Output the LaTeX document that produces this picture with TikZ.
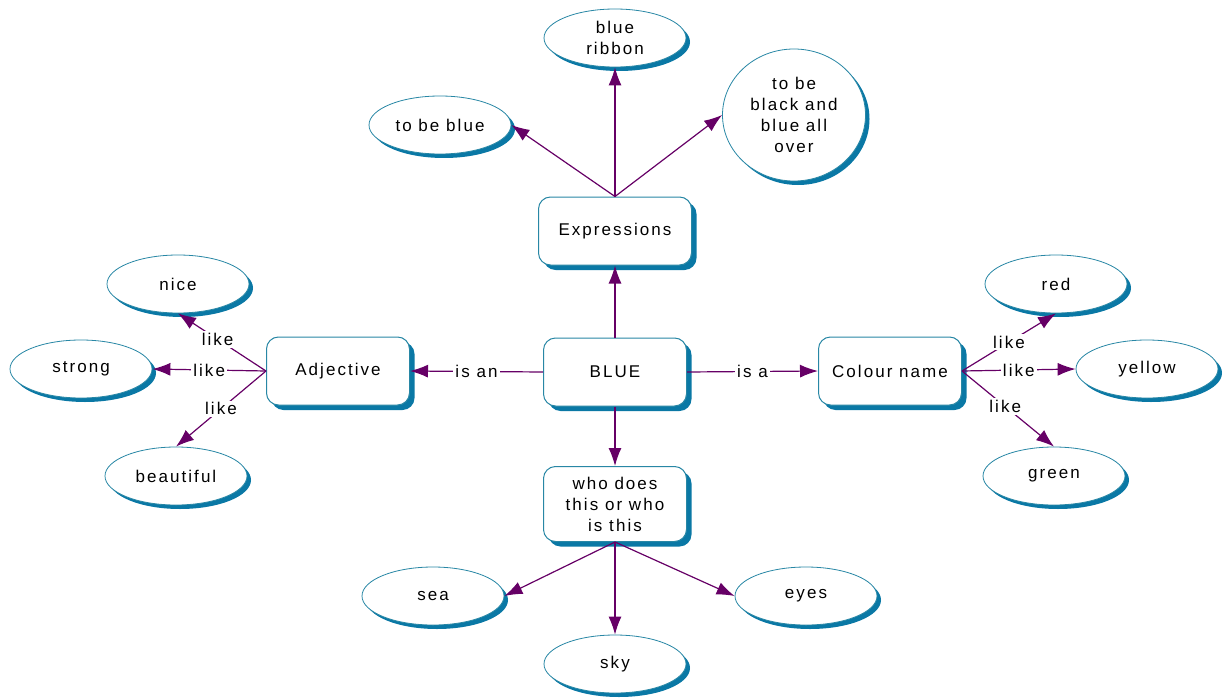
\documentclass[tikz,border=0pt]{standalone}
\usepackage{fontspec}
\setmainfont{Liberation Sans}[LetterSpace=12]
\usetikzlibrary{arrows.meta,shapes.geometric,shadows}
\definecolor{tline}{RGB}{40,135,165}
\definecolor{tshadow}{RGB}{10,120,165}
\definecolor{arrowpurple}{RGB}{102,0,102}
\begin{document}
\begin{tikzpicture}[x=1pt,y=-1pt,
  every node/.style={font=\fontsize{17}{21}\selectfont, align=center, text=black},
  mybox/.style={draw=tline, line width=1pt, fill=white, rounded corners=12pt,
    minimum width=143pt, minimum height=68pt, inner sep=0pt,
    drop shadow={shadow xshift=5pt, shadow yshift=-5pt, fill=tshadow, opacity=1}},
  myell/.style={ellipse, draw=tline, line width=0.8pt, fill=white,
    minimum width=142pt, minimum height=58pt, inner sep=0pt,
    drop shadow={shadow xshift=4pt, shadow yshift=-4pt, fill=tshadow, opacity=1}},
  conn/.style={draw=arrowpurple, line width=1.2pt, -{Latex[length=18pt,width=13pt]}},
  lbl/.style={fill=white, inner sep=2pt}
]
\useasboundingbox (0,0) rectangle (1226,698);

% boxes
\node[mybox] (blue) at (615,372) {BLUE};
\node[mybox, minimum width=153pt] (expr) at (615,231) {Expressions};
\node[mybox] (adj) at (338,371) {Adjective};
\node[mybox] (col) at (890,371) {Colour name};
\node[mybox, minimum height=75pt] (who) at (615,504) {who does\\this or who\\is this};

% ellipses
\node[myell] (ribbon) at (615,38) {blue\\ribbon};
\node[myell] (tobeblue) at (440,125) {to be blue};
\node[myell, minimum height=132pt, minimum width=143pt] (black) at (794,115) {to be\\black and\\blue all\\over};
\node[myell] (nice) at (178,284) {nice};
\node[myell] (strong) at (81,369) {strong};
\node[myell] (beautiful) at (176,476) {beautiful};
\node[myell] (red) at (1056,284) {red};
\node[myell] (yellow) at (1147,369) {yellow};
\node[myell] (green) at (1054,476) {green};
\node[myell] (sea) at (433,596) {sea};
\node[myell] (eyes) at (806,596) {eyes};
\node[myell] (sky) at (615,664) {sky};

% connectors
\draw[conn] (blue.north) -- (expr.south);
\draw[conn] (blue.south) -- (who.north);
\draw[conn] (blue.west) -- node[lbl] {is an} (adj.east);
\draw[conn] (blue.east) -- node[lbl] {is a} (col.west);

\draw[conn] (expr.north) -- (ribbon.south);
\draw[conn] (expr.north) -- (tobeblue.east);
\draw[conn] (expr.north) -- (black.west);

\draw[conn] (adj.west) -- node[lbl, pos=0.55] {like} (nice.south);
\draw[conn] (adj.west) -- node[lbl, pos=0.5] {like} (strong.east);
\draw[conn] (adj.west) -- node[lbl, pos=0.5] {like} (beautiful.north);

\draw[conn] (col.east) -- node[lbl, pos=0.5] {like} (red.south);
\draw[conn] (col.east) -- node[lbl, pos=0.5] {like} (yellow.west);
\draw[conn] (col.east) -- node[lbl, pos=0.47] {like} (green.north);

\draw[conn] (who.south) -- (sea.east);
\draw[conn] (who.south) -- (sky.north);
\draw[conn] (who.south) -- (eyes.west);
\end{tikzpicture}
\end{document}
